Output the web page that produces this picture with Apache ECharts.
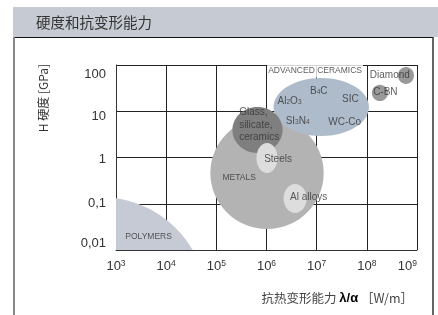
<!DOCTYPE html>
<html>
<head>
<meta charset="utf-8">
<script src="https://cdn.jsdelivr.net/npm/echarts@6/dist/echarts.min.js"></script>
<style>
  html, body { margin: 0; padding: 0; background: #fff; }
  #main { width: 438px; height: 315px; }
</style>
</head>
<body>
<div id="main"></div>
<script>
// 材料区域：x = 抗热变形能力 λ/α [W/m]，y = 硬度 H [GPa]，按椭圆外接范围给出
var materials = ['POLYMERS', 'METALS', 'ADVANCED CERAMICS', 'Glass', 'Steels', 'Al alloys', 'Diamond', 'C-BN'];
var xMin = [3.7,   7.6e4,  1.38e6, 2.09e5, 6.3e5,  2.19e6, 4.17e8, 1.26e8];
var xMax = [6.2e4, 1.38e7, 1.1e8,  2.09e6, 1.66e6, 6.3e6,  8.7e8,  2.63e8];
var yMin = [4.9e-6, 0.0284, 2.92,  1.25,   0.462,  0.063,  38.9,   16.6];
var yMax = [0.14,   7.5,    52.5,  12.3,   2.06,   0.267,  90.6,   37.2];

// 图中文字标注
var labelText = ['ADVANCED CERAMICS', 'Al{s|2}O{s|3}', 'B{s|4}C', 'SIC', 'SI{s|3}N{s|4}', 'WC-Co',
                 'Glass,\nsilicate,\nceramics', 'Steels', 'METALS', 'Al alloys', 'Diamond', 'C-BN', 'POLYMERS'];
var labelX = [9.3e6, 2.88e6, 1.1e7, 4.68e7, 4.17e6, 3.63e7, 2.85e5, 1.7e6, 2.85e5, 6.9e6, 2.88e8, 2.34e8, 4.47e3];
var labelY = [74, 16.6, 27.5, 18.2, 6.17, 5.89, 5.05, 0.93, 0.363, 0.141, 60, 26.3, 0.019];

var xTicks = [1e3, 1e4, 1e5, 1e6, 1e7, 1e8, 1e9];
var yTickLabels = ['0,01', '0,1', '1', '10', '100'];

var colors = {
  'POLYMERS': '#c5cad4',
  'METALS': '#b3b3b3',
  'ADVANCED CERAMICS': '#aebbca',
  'Glass': '#7f7f7f',
  'Steels': '#dddddd',
  'Al alloys': '#dddddd',
  'Diamond': '#999999',
  'C-BN': '#999999'
};
var font = '"Liberation Sans", Arial, Helvetica, sans-serif';
var cjk = '"Noto Sans CJK SC", sans-serif';

function ellipseItem(params, api) {
  var p1 = api.coord([api.value(0), api.value(2)]);
  var p2 = api.coord([api.value(1), api.value(3)]);
  return {
    type: 'ellipse',
    shape: {
      cx: (p1[0] + p2[0]) / 2,
      cy: (p1[1] + p2[1]) / 2,
      rx: Math.abs(p2[0] - p1[0]) / 2,
      ry: Math.abs(p2[1] - p1[1]) / 2
    },
    style: { fill: api.visual('color') }
  };
}

var series = materials.map(function (m, i) {
  return {
    name: m,
    type: 'custom',
    renderItem: ellipseItem,
    clip: true,
    silent: true,
    itemStyle: { color: colors[m] },
    encode: { x: [0, 1], y: [2, 3] },
    data: [[xMin[i], xMax[i], yMin[i], yMax[i]]]
  };
});

var labelData = labelText.map(function (t, i) {
  var caps = (t === 'ADVANCED CERAMICS' || t === 'METALS' || t === 'POLYMERS');
  var item = {
    value: [labelX[i], labelY[i]],
    label: { fontSize: caps ? 8.5 : 10 }
  };
  if (t === 'ADVANCED CERAMICS') {
    item.label.backgroundColor = '#fff';
    item.label.padding = [2, 1, 2, 1];
  }
  if (t.indexOf('Glass') === 0) {
    item.label.align = 'left';
    item.label.lineHeight = 12.3;
  }
  return item;
});

series.push({
  type: 'scatter',
  symbolSize: 0,
  silent: true,
  z: 5,
  data: labelData,
  label: {
    show: true,
    position: 'inside',
    color: '#333',
    fontFamily: font,
    formatter: function (p) { return labelText[p.dataIndex]; },
    rich: {
      s: { fontSize: 6.5, verticalAlign: 'bottom', color: '#333', fontFamily: font }
    }
  }
});

// y 轴刻度文字在原图中略有偏移
var yShift = [-6.5, 0, 1.5, 5.5, 9];
var yRich = {};
yShift.forEach(function (d, i) {
  yRich['t' + i] = {
    fontSize: 13, color: '#333', fontFamily: font,
    padding: d >= 0 ? [2 * d, 0, 0, 0] : [0, 0, -2 * d, 0]
  };
});

var myChart = echarts.init(document.getElementById('main'));
myChart.setOption({
  animation: false,
  backgroundColor: '#fff',
  grid: { left: 116, right: 21, top: 65, bottom: 65 },
  xAxis: {
    type: 'log',
    logBase: 10,
    min: xTicks[0],
    max: xTicks[xTicks.length - 1],
    axisLine: { show: true, lineStyle: { color: '#333', width: 1 } },
    axisTick: { show: false },
    splitLine: { show: true, lineStyle: { color: '#222', width: 1 } },
    axisLabel: {
      margin: 9,
      alignMaxLabel: 'right',
      formatter: function (v) {
        return '{b|10}{s|' + Math.round(Math.log10(v)) + '}';
      },
      rich: {
        b: { fontSize: 13, color: '#333', fontFamily: font, lineHeight: 15 },
        s: { fontSize: 8.5, color: '#333', fontFamily: font, verticalAlign: 'top', lineHeight: 15 }
      }
    }
  },
  yAxis: {
    type: 'log',
    logBase: 10,
    min: 0.01,
    max: 100,
    axisLine: { show: true, lineStyle: { color: '#333', width: 1 } },
    axisTick: { show: false },
    splitLine: { show: true, lineStyle: { color: '#222', width: 1 } },
    axisLabel: {
      margin: 10,
      formatter: function (v) {
        var k = Math.round(Math.log10(v)) + 2;
        return '{t' + k + '|' + yTickLabels[k] + '}';
      },
      rich: yRich
    }
  },
  graphic: [
    { type: 'rect', shape: { x: 13, y: 7, width: 425, height: 30 }, style: { fill: '#c6cbd3' }, z: -10 },
    { type: 'line', shape: { x1: 13, y1: 37.5, x2: 433, y2: 37.5 }, style: { stroke: '#111', lineWidth: 1 } },
    { type: 'line', shape: { x1: 14, y1: 37, x2: 14, y2: 315 }, style: { stroke: '#888', lineWidth: 2 } },
    { type: 'line', shape: { x1: 433, y1: 37, x2: 433, y2: 315 }, style: { stroke: '#333', lineWidth: 1.5 } },
    {
      type: 'text', x: 36, y: 22,
      style: { text: '硬度和抗变形能力', font: '14.5px ' + cjk, fill: '#333', textVerticalAlign: 'middle' }
    },
    {
      type: 'text', x: 43, y: 98, rotation: Math.PI / 2,
      style: { text: 'H 硬度 [GPa]', font: '12px ' + cjk, fill: '#333', textAlign: 'center', textVerticalAlign: 'middle' }
    },
    {
      type: 'text', x: 413, y: 298,
      style: {
        text: '{c|抗热变形能力 }{g|λ/α}{c| ［W/m］}',
        align: 'right', verticalAlign: 'middle',
        rich: {
          c: { fontSize: 12.5, fontFamily: cjk, fill: '#444', color: '#444' },
          g: { fontSize: 13, fontFamily: font, fontWeight: 'bold', color: '#333' }
        }
      }
    }
  ],
  series: series
});
</script>
</body>
</html>
